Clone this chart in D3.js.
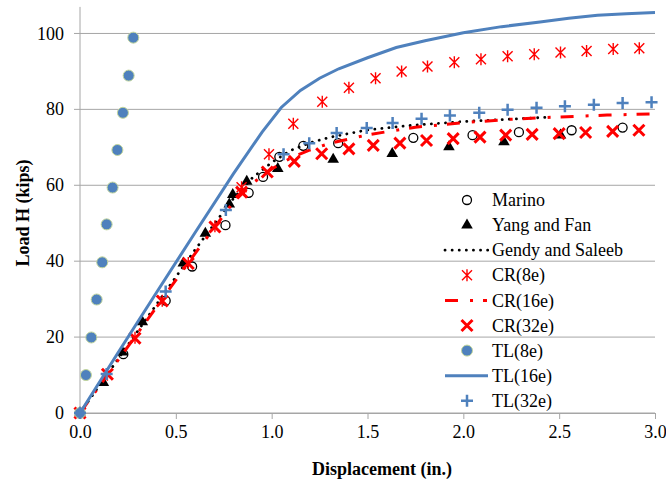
<!DOCTYPE html>
<html>
<head>
<meta charset="utf-8">
<script src="https://cdn.jsdelivr.net/npm/d3@7"></script>
<style>
  body { margin: 0; background: #fff; }
  svg text { font-family: "Liberation Serif", "Times New Roman", serif; fill: #000; }
</style>
</head>
<body>
<svg id="chart"></svg>
<script>
// series, [displacement (in.), load (kips)]
var marino = [[0,0],[0.226,15.5],[0.447,29.6],[0.585,38.6],[0.759,49.5],[0.88,58],[0.955,62.2],[1.04,67.5],[1.165,70.4],[1.347,71.1],[1.739,72.5],[2.048,73.2],[2.29,74],[2.565,74.5],[2.831,75.2]];
var yangFan = [[0,0],[0.122,8],[0.221,16],[0.325,24],[0.539,39.5],[0.654,47.3],[0.779,55],[0.797,57.5],[0.87,61],[1.032,64.4],[1.321,66.8],[1.629,68.3],[1.925,70.1],[2.212,71.4],[2.507,73.2]];
var gendy = [[0,0],[0.3,21.5],[0.6,43],[0.8,56.5],[0.9,62],[1.0,66],[1.1,69.2],[1.2,71.2],[1.3,72.6],[1.5,74.6],[1.75,75.9],[2.0,76.8],[2.2,77.3],[2.43,77.9]];
var cr8 = [[0,0],[0.143,10.1],[0.287,19.8],[0.429,29.6],[0.565,39.5],[0.704,49.2],[0.843,59.5],[0.986,68.2],[1.113,76.2],[1.264,82],[1.403,85.7],[1.542,88.2],[1.678,90],[1.813,91.3],[1.953,92.4],[2.092,93.2],[2.231,94],[2.37,94.5],[2.507,95],[2.643,95.4],[2.782,95.9],[2.918,96.1]];
var cr16 = [[0,0],[0.3,21],[0.6,42],[0.8,55.5],[0.9,60.5],[1.0,64.3],[1.1,67.2],[1.2,69.3],[1.3,71],[1.5,73.3],[1.75,75.3],[2.0,76.5],[2.25,77.4],[2.5,78],[2.75,78.5],[3.0,78.8]];
var cr32 = [[0,0],[0.143,10.2],[0.287,19.7],[0.429,29.5],[0.565,39.4],[0.704,49],[0.843,58.2],[0.977,63.5],[1.118,66.3],[1.261,68.3],[1.403,69.6],[1.53,70.5],[1.669,71.1],[1.808,71.8],[1.947,72.3],[2.087,72.7],[2.221,73.2],[2.359,73.4],[2.5,73.6],[2.638,73.9],[2.779,74.2],[2.916,74.5]];
var tl8 = [[0,0],[0.031,10],[0.059,19.9],[0.087,29.9],[0.116,39.7],[0.139,49.7],[0.17,59.4],[0.195,69.3],[0.224,79.1],[0.254,88.9],[0.278,98.9]];
var tl16 = [[0,0],[0.2,16],[0.4,31.8],[0.6,47.5],[0.8,63],[0.95,74],[1.05,80.5],[1.15,85],[1.25,88.2],[1.35,90.7],[1.5,93.6],[1.65,96.3],[1.8,98.1],[2.0,100.2],[2.2,101.8],[2.4,103],[2.55,104],[2.7,104.8],[2.85,105.2],[3.0,105.5]];
var tl32 = [[0,0],[0.139,10.3],[0.447,32],[0.761,53.5],[1.062,68.2],[1.196,71.1],[1.339,73.8],[1.496,75.1],[1.631,76.4],[1.782,77.5],[1.93,78.4],[2.083,79.1],[2.231,79.9],[2.382,80.4],[2.53,80.8],[2.681,81.2],[2.831,81.7],[2.982,81.9]];

var xTicks = [0, 0.5, 1.0, 1.5, 2.0, 2.5, 3.0];
var yTicks = [0, 20, 40, 60, 80, 100];
var legendNames = ["Marino", "Yang and Fan", "Gendy and Saleeb", "CR(8e)", "CR(16e)", "CR(32e)", "TL(8e)", "TL(16e)", "TL(32e)"];

var width = 666, height = 483;
var red = "#ff0000", blue = "#4f81bd", grid = "#a6a6a6";

var svg = d3.select("#chart").attr("width", width).attr("height", height);

var x = d3.scaleLinear().domain([0, 3]).range([80, 655]);
var y = d3.scaleLinear().domain([0, 107]).range([413, 6.9]);

// gridlines + y labels
svg.append("g").selectAll("line").data(yTicks).enter().append("line")
	.attr("x1", 74).attr("x2", 655)
	.attr("y1", function(d){ return y(d); }).attr("y2", function(d){ return y(d); })
	.attr("stroke", grid).attr("stroke-width", 1);

svg.append("g").selectAll("text").data(yTicks).enter().append("text")
	.attr("x", 64).attr("y", function(d){ return y(d); })
	.attr("dy", "0.34em").attr("text-anchor", "end")
	.style("font-size", "18px")
	.text(function(d){ return d; });

// axes
svg.append("line").attr("x1", x(0)).attr("x2", x(0)).attr("y1", y(107)).attr("y2", y(0))
	.attr("stroke", grid).attr("stroke-width", 1);

var xAxis = svg.append("g").attr("transform", "translate(0," + y(0) + ")")
	.call(d3.axisBottom(x).tickValues(xTicks).tickSize(6).tickFormat(d3.format(".1f")));
xAxis.select(".domain").attr("stroke", grid);
xAxis.selectAll(".tick line").attr("stroke", grid);
xAxis.selectAll(".tick text").attr("y", 12).style("font-size", "18px")
	.style("font-family", "Liberation Serif, serif").attr("fill", "#000");

// titles
svg.append("text").attr("x", 382).attr("y", 475).attr("text-anchor", "middle")
	.style("font-size", "18px").style("font-weight", "bold").text("Displacement (in.)");
svg.append("text").attr("transform", "translate(29,213) rotate(-90)").attr("text-anchor", "middle")
	.style("font-size", "18px").style("font-weight", "bold").text("Load H (kips)");

var line = d3.line().x(function(d){ return x(d[0]); }).y(function(d){ return y(d[1]); });

var paths = {
	star: "M-5,-5L5,5M-5,5L5,-5M0,-6L0,6",
	cross: "M-5.5,-5.5L5.5,5.5M-5.5,5.5L5.5,-5.5",
	plus: "M-6,0L6,0M0,-6L0,6"
};

function markers(data, draw) {
	var g = svg.append("g");
	g.selectAll("g").data(data).enter().append("g")
		.attr("transform", function(d){ return "translate(" + x(d[0]) + "," + y(d[1]) + ")"; })
		.each(function(){ draw(d3.select(this)); });
}

var styles = {
	marino: function(s){ s.append("circle").attr("r", 4.5).attr("fill", "none").attr("stroke", "#000").attr("stroke-width", 1.3); },
	yang: function(s){ s.append("path").attr("d", d3.symbol().type(d3.symbolTriangle).size(58)()).attr("fill", "#000"); },
	cr8: function(s){ s.append("path").attr("d", paths.star).attr("stroke", red).attr("stroke-width", 1.4).attr("fill", "none"); },
	cr32: function(s){ s.append("path").attr("d", paths.cross).attr("stroke", red).attr("stroke-width", 3).attr("fill", "none"); },
	tl8: function(s){ s.append("circle").attr("r", 5.5).attr("fill", blue).attr("stroke", "#c3d69b").attr("stroke-width", 1); },
	tl32: function(s){ s.append("path").attr("d", paths.plus).attr("stroke", blue).attr("stroke-width", 2.5).attr("fill", "none"); }
};

function gendyLine(sel){ return sel.attr("fill", "none").attr("stroke", "#000").attr("stroke-width", 2.8)
	.attr("stroke-linecap", "round").attr("stroke-dasharray", "0.1,7"); }
function cr16Line(sel){ return sel.attr("fill", "none").attr("stroke", red).attr("stroke-width", 3)
	.attr("stroke-dasharray", "13,12,3,10"); }
function tl16Line(sel){ return sel.attr("fill", "none").attr("stroke", blue).attr("stroke-width", 3); }

markers(marino, styles.marino);
markers(yangFan, styles.yang);
svg.append("path").datum(gendy).attr("d", line).call(gendyLine);
markers(cr8, styles.cr8);
svg.append("path").datum(cr16).attr("d", line).call(cr16Line);
markers(cr32, styles.cr32);
markers(tl8, styles.tl8);
svg.append("path").datum(tl16).attr("d", line).call(tl16Line);
markers(tl32, styles.tl32);

// legend
var legend = svg.append("g");
legendNames.forEach(function(name, i){
	var ly = 200 + i * 25.1;
	var g = legend.append("g").attr("transform", "translate(467," + ly + ")");
	if (i == 0) styles.marino(g);
	if (i == 1) styles.yang(g);
	if (i == 2) g.append("line").attr("x1", -22).attr("x2", 21).call(gendyLine);
	if (i == 3) styles.cr8(g);
	if (i == 4) g.append("line").attr("x1", -22).attr("x2", 20).call(cr16Line);
	if (i == 5) styles.cr32(g);
	if (i == 6) styles.tl8(g);
	if (i == 7) g.append("line").attr("x1", -22).attr("x2", 21).call(tl16Line);
	if (i == 8) styles.tl32(g);
	legend.append("text").attr("x", 492).attr("y", ly).attr("dy", "0.34em")
		.style("font-size", "18px").text(name);
});
</script>
</body>
</html>
